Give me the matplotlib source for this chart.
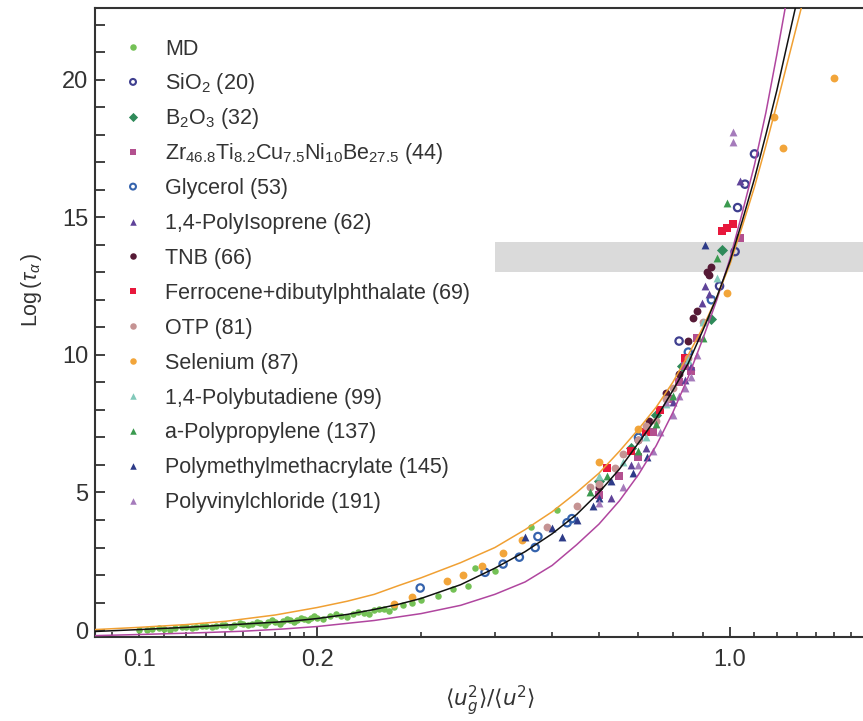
import matplotlib
matplotlib.use("Agg")
import matplotlib.pyplot as plt
from matplotlib.ticker import FixedLocator, MultipleLocator, NullFormatter

plt.rcParams['font.family'] = ['Liberation Sans', 'DejaVu Sans']
plt.rcParams['mathtext.fontset'] = 'custom'
plt.rcParams['mathtext.rm'] = 'Liberation Sans'
plt.rcParams['mathtext.it'] = 'Liberation Sans:italic'

# ---- data (x = <u_g^2>/<u^2>, y = log tau_alpha) ----
md_x = [0.10, 0.103, 0.105, 0.108, 0.11, 0.113, 0.115, 0.118, 0.12, 0.123, 0.125, 0.128,
        0.13, 0.133, 0.135, 0.138, 0.14, 0.143, 0.145, 0.148, 0.15, 0.153, 0.155, 0.158,
        0.16, 0.163, 0.165, 0.168, 0.17, 0.173, 0.175, 0.178, 0.18, 0.183, 0.185, 0.188,
        0.19, 0.193, 0.195, 0.198, 0.20, 0.205, 0.21, 0.215, 0.22, 0.225, 0.23, 0.235,
        0.24, 0.245, 0.25, 0.255, 0.26, 0.265, 0.27, 0.28, 0.29, 0.30, 0.32, 0.34,
        0.36, 0.37, 0.40, 0.46, 0.51]
md_y = [0.02, 0.00, 0.05, 0.08, 0.05, 0.02, 0.08, 0.12, 0.10, 0.06, 0.10, 0.15,
        0.14, 0.10, 0.15, 0.20, 0.18, 0.13, 0.20, 0.26, 0.22, 0.17, 0.22, 0.30,
        0.26, 0.20, 0.30, 0.35, 0.30, 0.24, 0.33, 0.40, 0.36, 0.30, 0.36, 0.45,
        0.42, 0.35, 0.43, 0.50, 0.45, 0.40, 0.50, 0.58, 0.52, 0.48, 0.60, 0.67,
        0.62, 0.57, 0.73, 0.78, 0.78, 0.70, 0.85, 0.92, 1.00, 1.10, 1.25, 1.50,
        1.60, 2.25, 2.15, 3.75, 4.36]

sio2_x = [0.82, 0.96, 1.02, 1.03, 1.06, 1.10]
sio2_y = [10.5, 12.5, 13.75, 15.35, 16.2, 17.3]

b2o3_x = [0.60, 0.68, 0.75, 0.83, 0.93, 0.97]
b2o3_y = [5.4, 6.6, 7.8, 9.6, 11.3, 13.8]

zr_x = [0.60, 0.65, 0.70, 0.74, 0.79, 0.82, 0.84, 0.86, 0.88, 1.04]
zr_y = [4.9, 5.6, 6.3, 7.2, 8.4, 9.0, 9.6, 9.4, 10.6, 14.25]

glycerol_x = [0.299, 0.385, 0.413, 0.44, 0.468, 0.473, 0.53, 0.54, 0.70, 0.85, 0.93]
glycerol_y = [1.53, 2.1, 2.4, 2.65, 3.0, 3.4, 3.9, 4.05, 7.0, 10.1, 12.0]

pi_x = [0.63, 0.68, 0.72, 0.80, 0.84, 0.86, 0.895, 0.907, 0.92, 1.04]
pi_y = [4.8, 6.0, 6.6, 8.3, 9.1, 9.6, 11.9, 12.5, 12.2, 16.3]

tnb_x = [0.60, 0.70, 0.73, 0.78, 0.82, 0.85, 0.866, 0.88, 0.915, 0.93, 0.92]
tnb_y = [5.2, 6.9, 7.6, 8.6, 9.3, 10.5, 11.35, 11.6, 13.0, 13.2, 12.9]

ferro_x = [0.62, 0.68, 0.72, 0.76, 0.84, 0.97, 0.99, 1.01]
ferro_y = [5.9, 6.5, 7.2, 8.0, 9.9, 14.5, 14.6, 14.75]

otp_x = [0.49, 0.55, 0.58, 0.60, 0.64, 0.66, 0.70, 0.72, 0.75, 0.78, 0.80, 0.85, 0.90]
otp_y = [3.75, 4.5, 5.2, 5.3, 5.9, 6.4, 6.9, 7.4, 7.6, 8.4, 8.8, 9.9, 11.2]

se_x = [0.27, 0.29, 0.332, 0.353, 0.38, 0.413, 0.445, 0.60, 0.70, 0.99, 1.187, 1.23, 1.50]
se_y = [0.95, 1.2, 1.8, 2.0, 2.33, 2.8, 3.27, 6.1, 7.3, 12.25, 18.65, 17.5, 20.07]

pb_x = [0.60, 0.66, 0.72, 0.78, 0.85, 0.90, 0.95]
pb_y = [5.6, 6.1, 7.0, 8.2, 9.8, 11.2, 12.8]

pp_x = [0.58, 0.62, 0.70, 0.75, 0.80, 0.90, 0.95, 0.99]
pp_y = [5.0, 5.6, 6.5, 7.5, 8.5, 10.6, 13.5, 15.5]

pmma_x = [0.45, 0.50, 0.52, 0.55, 0.586, 0.60, 0.63, 0.685, 0.724, 0.907]
pmma_y = [3.4, 3.7, 3.4, 4.0, 4.5, 4.8, 5.4, 5.7, 6.3, 14.0]

pvc_x = [0.60, 0.66, 0.70, 0.74, 0.76, 0.78, 0.80, 0.82, 0.84, 0.86, 0.88, 1.01, 1.01]
pvc_y = [4.6, 5.2, 6.0, 6.5, 7.2, 8.3, 7.8, 8.5, 8.8, 9.2, 10.0, 17.75, 18.1]

# fitted master curves
black_x = [0.0842, 0.10, 0.12, 0.15, 0.18, 0.20, 0.225, 0.25, 0.275, 0.30, 0.35, 0.40,
           0.45, 0.50, 0.55, 0.60, 0.65, 0.70, 0.75, 0.80, 0.85, 0.90, 0.95, 1.00,
           1.05, 1.10, 1.15, 1.20, 1.25, 1.29]
black_y = [-0.05, 0.02, 0.10, 0.22, 0.32, 0.42, 0.57, 0.75, 0.94, 1.15, 1.65, 2.25,
           2.85, 3.50, 4.20, 5.00, 5.85, 6.80, 7.70, 8.70, 9.70, 10.9, 12.1, 13.4,
           14.9, 16.4, 18.0, 19.6, 21.3, 22.6]
orange_x = [0.0842, 0.10, 0.12, 0.14, 0.17, 0.20, 0.225, 0.25, 0.275, 0.30, 0.35, 0.40,
            0.45, 0.50, 0.55, 0.60, 0.65, 0.70, 0.75, 0.80, 0.85, 0.90, 0.95, 1.00,
            1.05, 1.10, 1.15, 1.20, 1.25, 1.32]
orange_y = [0.02, 0.10, 0.20, 0.32, 0.55, 0.82, 1.05, 1.30, 1.62, 1.90, 2.45, 3.00,
            3.65, 4.30, 5.00, 5.70, 6.50, 7.30, 8.10, 9.00, 10.0, 11.0, 12.1, 13.3,
            14.7, 16.1, 17.6, 19.1, 20.6, 22.6]
purple_x = [0.0842, 0.10, 0.125, 0.15, 0.175, 0.20, 0.25, 0.30, 0.35, 0.40, 0.45, 0.50,
            0.55, 0.60, 0.65, 0.70, 0.75, 0.80, 0.85, 0.90, 0.95, 1.00, 1.05, 1.10,
            1.15, 1.20, 1.24]
purple_y = [-0.20, -0.16, -0.10, -0.04, 0.04, 0.13, 0.35, 0.60, 0.90, 1.30, 1.75, 2.35,
            3.10, 3.85, 4.70, 5.65, 6.70, 7.90, 9.20, 10.6, 12.0, 13.5, 15.2, 16.9,
            18.8, 20.9, 22.6]

# glass transition band
band_x = [0.40, 1.70]
band_lo, band_hi = 13.0, 14.1

series = [
    (md_x, md_y, 'MD', 'o', '#74c156', None),
    (sio2_x, sio2_y, 'SiO$_2$ (20)', 'o', 'none', '#3f3f8f'),
    (b2o3_x, b2o3_y, 'B$_2$O$_3$ (32)', 'D', '#2f8a5a', None),
    (zr_x, zr_y, 'Zr$_{46.8}$Ti$_{8.2}$Cu$_{7.5}$Ni$_{10}$Be$_{27.5}$ (44)', 's', '#b3508f', None),
    (glycerol_x, glycerol_y, 'Glycerol (53)', 'o', 'none', '#3563ad'),
    (pi_x, pi_y, '1,4-PolyIsoprene (62)', '^', '#5f4399', None),
    (tnb_x, tnb_y, 'TNB (66)', 'o', '#561a36', None),
    (ferro_x, ferro_y, 'Ferrocene+dibutylphthalate (69)', 's', '#e8183c', None),
    (otp_x, otp_y, 'OTP (81)', 'o', '#c59393', None),
    (se_x, se_y, 'Selenium (87)', 'o', '#f2a53a', None),
    (pb_x, pb_y, '1,4-Polybutadiene (99)', '^', '#82c9ba', None),
    (pp_x, pp_y, 'a-Polypropylene (137)', '^', '#3b9a4f', None),
    (pmma_x, pmma_y, 'Polymethylmethacrylate (145)', '^', '#2d3b88', None),
    (pvc_x, pvc_y, 'Polyvinylchloride (191)', '^', '#a57bbb', None),
]

TEXT = '#333333'
W, H = 863, 721
AX_L, AX_R, AX_T, AX_B = 95, 863, 8, 637

fig = plt.figure(figsize=(W / 100, H / 100), dpi=100)
ax = fig.add_axes([AX_L / W, 1 - AX_B / H, (AX_R - AX_L) / W, (AX_B - AX_T) / H])

ax.fill_between(band_x, band_lo, band_hi, color='#dadada', lw=0, zorder=0)


def px_to_axes(px, py):
    return (px - AX_L) / (AX_R - AX_L), (AX_B - py) / (AX_B - AX_T)


for i, (xs, ys, label, marker, face, edge) in enumerate(series):
    size = 22 if label == 'MD' else 32
    if edge is None:
        ax.scatter(xs, ys, s=size, marker=marker, color=face, lw=0, zorder=3)
    else:
        ax.scatter(xs, ys, s=28, marker=marker, facecolors='none', edgecolors=edge,
                   lw=1.6, zorder=3)

    # legend row (hand placed to keep even spacing like the original)
    row_y = 47 + 34.9 * i
    mx, my = px_to_axes(133, row_y)
    if edge is None:
        ax.scatter([mx], [my], s=22, marker=marker, color=face, lw=0,
                   transform=ax.transAxes, zorder=5, clip_on=False)
    else:
        ax.scatter([mx], [my], s=18, marker=marker, facecolors='none', edgecolors=edge,
                   lw=1.5, transform=ax.transAxes, zorder=5, clip_on=False)
    tx, ty = px_to_axes(165, row_y + 7.5)
    ax.text(tx, ty, label, transform=ax.transAxes, fontsize=15.5, color=TEXT,
            ha='left', va='baseline', zorder=5)

ax.plot(purple_x, purple_y, color='#b0469f', lw=1.1, zorder=4)
ax.plot(orange_x, orange_y, color='#f0a033', lw=1.1, zorder=4)
ax.plot(black_x, black_y, color='#111111', lw=1.1, zorder=4)

ax.set_xscale('log')
ax.set_xlim(0.0842, 1.679)
ax.set_ylim(-0.25, 22.6)

ax.xaxis.set_major_locator(FixedLocator([0.1, 0.2, 1.0]))
ax.set_xticklabels(['0.1', '0.2', '1.0'])
minors = [0.09] + [0.11 + 0.01 * k for k in range(9)] + [0.3 + 0.1 * k for k in range(7)] \
    + [1.1 + 0.1 * k for k in range(6)]
ax.xaxis.set_minor_locator(FixedLocator(minors))
ax.xaxis.set_minor_formatter(NullFormatter())
ax.yaxis.set_major_locator(MultipleLocator(5))
ax.yaxis.set_minor_locator(MultipleLocator(1))

ax.tick_params(axis='both', which='both', direction='in', colors=TEXT,
               labelcolor=TEXT, labelsize=17)
ax.tick_params(axis='x', which='major', length=7, width=1.3, pad=9)
ax.tick_params(axis='x', which='minor', length=3.5, width=1.2)
ax.tick_params(axis='y', which='both', length=7, width=1.3, pad=5)

for side in ('left', 'bottom', 'top'):
    ax.spines[side].set_linewidth(1.5)
    ax.spines[side].set_color(TEXT)
ax.spines['right'].set_visible(False)

ax.set_ylabel(r'Log$\,(\tau_\alpha\,)$', fontsize=15.5, color=TEXT)
ax.yaxis.set_label_coords(-0.066, 0.552)
ax.set_xlabel(r'$\langle u_g^2\rangle/\langle u^2\rangle$', fontsize=15.5, color=TEXT,
              math_fontfamily='dejavusans')
ax.xaxis.set_label_coords(0.514, -0.074)

fig.savefig('out.png', dpi=100)
